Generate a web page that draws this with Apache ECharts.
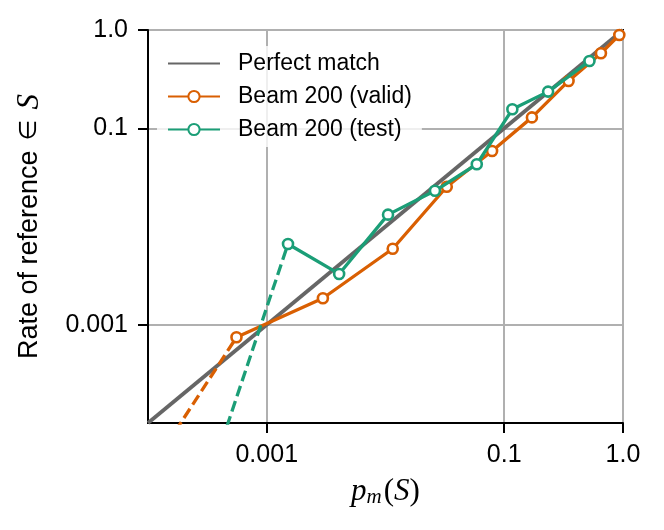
<!DOCTYPE html>
<html>
<head>
<meta charset="utf-8">
<script src="https://cdn.jsdelivr.net/npm/echarts@6/dist/echarts.min.js"></script>
<style>
html, body { margin: 0; padding: 0; background: #fff; }
#main { width: 664px; height: 530px; }
</style>
</head>
<body>
<div id="main"></div>
<script>
// ticks shown on both log axes
var tickValues = [0.001, 0.1, 1];
var tickLabels = ['0.001', '0.1', '1.0'];

// reference line y = x
var perfectX = [1e-4, 1];
var perfectY = [1e-4, 1];

// Beam 200 (valid)
var validX = [5.56e-4, 2.97e-3, 0.0115, 0.0328, 0.079, 0.171, 0.348, 0.652, 0.931];
var validY = [7.45e-4, 1.86e-3, 0.00594, 0.0254, 0.0586, 0.129, 0.303, 0.579, 0.889];
// dashed tail of valid, runs off the bottom of the plot
var validTailX = [1.02e-4, 5.56e-4];
var validTailY = [3.2e-5, 7.45e-4];

// Beam 200 (test)
var testX = [1.51e-3, 4.07e-3, 0.0105, 0.0261, 0.0587, 0.117, 0.234, 0.522];
var testY = [6.64e-3, 3.29e-3, 0.0132, 0.0231, 0.0430, 0.156, 0.236, 0.483];
var testTailX = [3.43e-4, 1.51e-3];
var testTailY = [3.16e-5, 6.64e-3];

function pairs(xs, ys) {
    var out = [];
    for (var i = 0; i < xs.length; i++) out.push([xs[i], ys[i]]);
    return out;
}

function tickText(v) {
    for (var i = 0; i < tickValues.length; i++) {
        if (Math.abs(Math.log10(v) - Math.log10(tickValues[i])) < 1e-6) return tickLabels[i];
    }
    return '';
}

var orange = '#d95f02';
var green = '#1b9e77';
var grey = '#666666';
var font = 'Liberation Sans';
var mathFont = 'Liberation Serif';

var myChart = echarts.init(document.getElementById('main'));

var axisCommon = {
    type: 'log',
    logBase: 10,
    min: 1e-4,
    max: 1,
    axisLine: { show: true, lineStyle: { color: '#000', width: 2 } },
    axisTick: { show: true, length: 10, customValues: tickValues, lineStyle: { color: '#000', width: 2 } },
    splitLine: { show: true, lineStyle: { color: '#b0b0b0', width: 2 } },
    minorTick: { show: false },
    minorSplitLine: { show: false }
};

var option = {
    animation: false,
    backgroundColor: '#fff',
    grid: {
        left: 148, right: 41, top: 30, bottom: 107,
        show: true, borderColor: '#000', borderWidth: 2, backgroundColor: 'transparent'
    },
    legend: {
        orient: 'vertical',
        left: 157,
        top: 46,
        padding: [6, 10, 6, 10],
        backgroundColor: 'rgba(255,255,255,0.8)',
        borderRadius: 4,
        itemWidth: 52,
        itemHeight: 14,
        itemGap: 10,
        data: [
            { name: 'Perfect match', itemStyle: { opacity: 0 } },
            'Beam 200 (valid)',
            'Beam 200 (test)'
        ],
        textStyle: { fontFamily: font, fontSize: 23, lineHeight: 23, color: '#000', padding: [0, 0, 0, 13] }
    },
    xAxis: Object.assign({}, axisCommon, {
        axisLabel: {
            customValues: tickValues, margin: 20,
            fontFamily: font, fontSize: 25, color: '#000',
            formatter: tickText
        },
        name: '{i|p}{s|m}{r|(}{i|S}{r|)}',
        nameLocation: 'middle',
        nameGap: 52,
        nameTextStyle: {
            rich: {
                i: { fontFamily: mathFont, fontStyle: 'italic', fontSize: 31, color: '#000' },
                r: { fontFamily: mathFont, fontSize: 31, color: '#000' },
                s: { fontFamily: mathFont, fontStyle: 'italic', fontSize: 21, color: '#000', verticalAlign: 'bottom', padding: [12, 2, 0, 0] }
            }
        }
    }),
    yAxis: Object.assign({}, axisCommon, {
        axisLabel: {
            customValues: tickValues, margin: 20,
            fontFamily: font, fontSize: 25, color: '#000',
            formatter: tickText
        },
        name: '{t|Rate of reference}{m|∈}{i|S}',
        nameLocation: 'middle',
        nameRotate: 90,
        nameGap: 103,
        nameTextStyle: {
            rich: {
                t: { fontFamily: font, fontSize: 27, color: '#000' },
                m: { fontFamily: 'DejaVu Sans', fontSize: 24, color: '#000', padding: [0, 10, 0, 10] },
                i: { fontFamily: mathFont, fontStyle: 'italic', fontSize: 31, color: '#000' }
            }
        }
    }),
    series: [
        {
            name: 'Perfect match',
            type: 'line',
            data: pairs(perfectX, perfectY),
            symbol: 'none',
            clip: true,
            lineStyle: { color: grey, width: 3.8 },
            itemStyle: { color: grey },
            z: 2
        },
        {
            name: 'valid tail',
            type: 'line',
            data: pairs(validTailX, validTailY),
            symbol: 'none',
            clip: true,
            lineStyle: { color: orange, width: 3.3, type: [11, 5] },
            z: 3
        },
        {
            name: 'Beam 200 (valid)',
            type: 'line',
            data: pairs(validX, validY),
            symbol: 'circle',
            symbolSize: 10,
            clip: true,
            lineStyle: { color: orange, width: 3.3 },
            itemStyle: { color: '#fff', borderColor: orange, borderWidth: 2.6 },
            z: 4
        },
        {
            name: 'test tail',
            type: 'line',
            data: pairs(testTailX, testTailY),
            symbol: 'none',
            clip: true,
            lineStyle: { color: green, width: 3.3, type: [11, 5] },
            z: 5
        },
        {
            name: 'Beam 200 (test)',
            type: 'line',
            data: pairs(testX, testY),
            symbol: 'circle',
            symbolSize: 10,
            clip: true,
            lineStyle: { color: green, width: 3.3 },
            itemStyle: { color: '#fff', borderColor: green, borderWidth: 2.6 },
            z: 6
        }
    ]
};
myChart.setOption(option);
window.onresize = myChart.resize;
</script>
</body>
</html>
